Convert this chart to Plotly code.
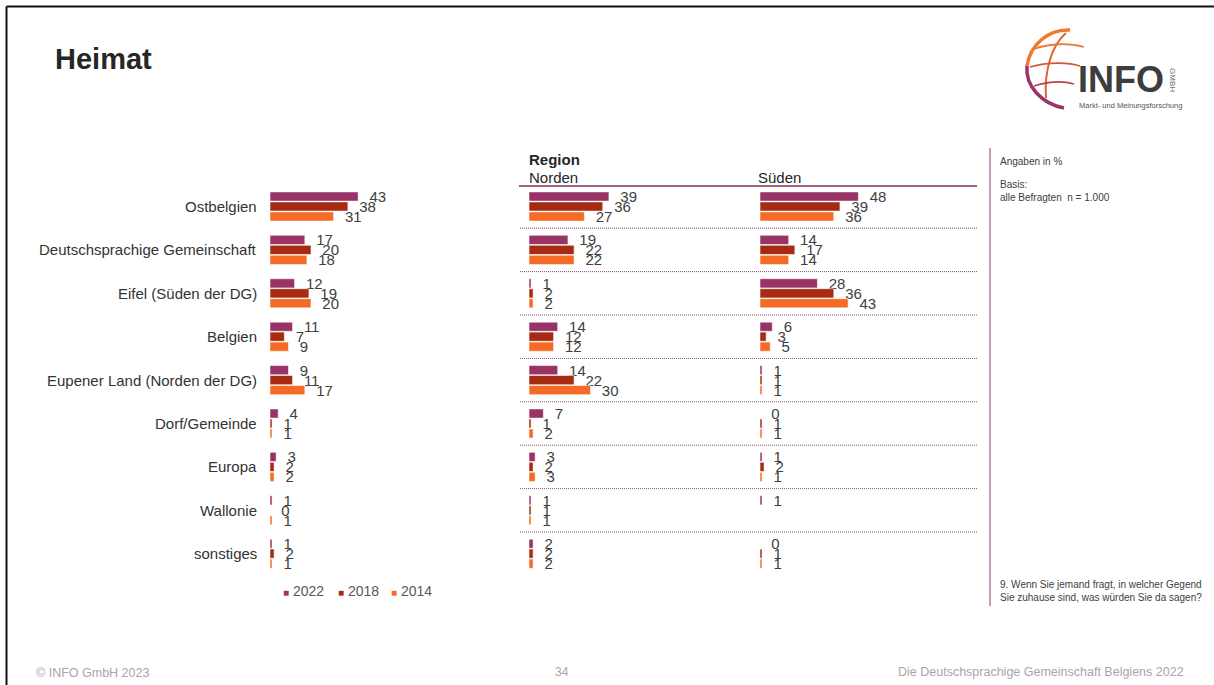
import plotly.graph_objects as go

W, H = 1214, 685

categories = ["Ostbelgien", "Deutschsprachige Gemeinschaft", "Eifel (Süden der DG)", "Belgien",
              "Eupener Land (Norden der DG)", "Dorf/Gemeinde", "Europa", "Wallonie", "sonstiges"]
years = ["2022", "2018", "2014"]

gesamt_2022 = [43, 17, 12, 11, 9, 4, 3, 1, 1]
gesamt_2018 = [38, 20, 19, 7, 11, 1, 2, 0, 2]
gesamt_2014 = [31, 18, 20, 9, 17, 1, 2, 1, 1]

norden_2022 = [39, 19, 1, 14, 14, 7, 3, 1, 2]
norden_2018 = [36, 22, 2, 12, 22, 1, 2, 1, 2]
norden_2014 = [27, 22, 2, 12, 30, 2, 3, 1, 2]

sueden_2022 = [48, 14, 28, 6, 1, 0, 1, 1, 0]
sueden_2018 = [39, 17, 36, 3, 1, 1, 2, None, 1]
sueden_2014 = [36, 14, 43, 5, 1, 1, 1, None, 1]

colors = {"2022": "#993366", "2018": "#A62B12", "2014": "#F36B24"}


def px(x):
    return x / W


def py(y):
    return 1 - y / H


fig = go.Figure()

panels = [
    ("x", [gesamt_2022, gesamt_2018, gesamt_2014]),
    ("x2", [norden_2022, norden_2018, norden_2014]),
    ("x3", [sueden_2022, sueden_2018, sueden_2014]),
]
for xa, series in panels:
    for yr, vals in zip(years, series):
        fig.add_trace(go.Bar(
            x=vals, y=categories, orientation="h", name=yr,
            xaxis=xa, yaxis="y",
            marker=dict(color=colors[yr], line=dict(color="rgba(255,255,255,0.55)", width=1)),
            texttemplate="\u00a0\u00a0%{x}", textposition="outside", textangle=0,
            constraintext="none", cliponaxis=False,
            textfont=dict(family="Liberation Sans, Arial", size=15, color="#404040"),
            showlegend=False, hoverinfo="skip",
        ))

scale_units = 50
unit_px = 2.05
row0, step = 206.5, 43.4
y_top = row0 - 0.5 * step
y_bot = row0 + 8.5 * step

xaxis_common = dict(range=[0, scale_units], showgrid=False, zeroline=False, showticklabels=False,
                    showline=False, fixedrange=True, anchor="y")

fig.update_layout(
    width=W, height=H, margin=dict(l=0, r=0, t=0, b=0),
    paper_bgcolor="white", plot_bgcolor="rgba(0,0,0,0)",
    barmode="group", bargap=0.31, bargroupgap=0.08,
    font=dict(family="Liberation Sans, Arial", color="#404040"),
    xaxis=dict(domain=[px(270), px(270 + scale_units * unit_px)], **xaxis_common),
    xaxis2=dict(domain=[px(529), px(529 + scale_units * unit_px)], **xaxis_common),
    xaxis3=dict(domain=[px(760), px(760 + scale_units * unit_px)], **xaxis_common),
    yaxis=dict(domain=[py(y_bot), py(y_top)], range=[8.5, -0.5], type="category",
               showgrid=False, zeroline=False, showticklabels=False, fixedrange=True, anchor="x"),
    showlegend=False,
)

shapes = []
# frame
shapes.append(dict(type="line", xref="paper", yref="paper", x0=px(6.5), x1=1, y0=py(6.5), y1=py(6.5),
                   line=dict(color="#111111", width=2)))
shapes.append(dict(type="line", xref="paper", yref="paper", x0=px(6.5), x1=px(6.5), y0=py(6.5), y1=0,
                   line=dict(color="#111111", width=2)))
# header rule
shapes.append(dict(type="line", xref="paper", yref="paper", x0=px(519), x1=px(977), y0=py(186), y1=py(186),
                   line=dict(color="#7B2E5F", width=1.5)))
# dotted separators between categories
for k in range(len(categories) - 1):
    shapes.append(dict(type="line", xref="paper", yref="y", x0=px(520), x1=px(977), y0=k + 0.5, y1=k + 0.5,
                       line=dict(color="#8A4A78", width=1, dash="1px,1px")))
# vertical note line
shapes.append(dict(type="line", xref="paper", yref="paper", x0=px(990), x1=px(990), y0=py(148), y1=py(606),
                   line=dict(color="#B57AA3", width=1.5)))


def P(x, y):
    return f"{px(x):.5f},{py(y):.5f}"


logo_paths = [
    (f"M {P(1070,30)} C {P(1048,29)} {P(1030,45)} {P(1027,66)}", "#EE7A2E", 3.5),
    (f"M {P(1027,66)} C {P(1025,86)} {P(1042,104)} {P(1064,108)}", "#9A3468", 3.5),
    (f"M {P(1066,33)} C {P(1052,45)} {P(1044,70)} {P(1046,98)}", "#E0632C", 2),
    (f"M {P(1034,49)} C {P(1050,43)} {P(1070,43)} {P(1084,47)}", "#EB7A3A", 1.8),
    (f"M {P(1030,67)} C {P(1048,62)} {P(1068,62)} {P(1080,66)}", "#D4573A", 1.8),
    (f"M {P(1034,86)} C {P(1050,81)} {P(1064,81)} {P(1074,84)}", "#B8414B", 1.8),
]
for d, c, w in logo_paths:
    shapes.append(dict(type="path", xref="paper", yref="paper", path=d, line=dict(color=c, width=w)))

fig.update_layout(shapes=shapes)

ann = []
for cat in categories:
    ann.append(dict(xref="paper", yref="y", x=px(259), y=cat, text=cat, showarrow=False,
                    xanchor="right", yanchor="middle",
                    font=dict(size=15, color="#333333", family="Liberation Sans, Arial")))


def text(x, y, t, size, color="#404040", anchor="left", bold=False, angle=0, family="Liberation Sans, Arial"):
    return dict(xref="paper", yref="paper", x=px(x), y=py(y), text=(f"<b>{t}</b>" if bold else t),
                showarrow=False, xanchor=anchor, yanchor="middle", textangle=angle,
                font=dict(size=size, color=color, family=family))


ann.append(text(53, 59, "Heimat", 29, "#262626", bold=True))
ann.append(text(527, 160, "Region", 15, "#262626", bold=True))
ann.append(text(527, 177, "Norden", 15, "#262626"))
ann.append(text(756, 177, "Süden", 15, "#262626"))
ann.append(text(998, 161, "Angaben in %", 10, "#404040"))
ann.append(text(998, 184, "Basis:", 10, "#404040"))
ann.append(text(998, 197, "alle Befragten&nbsp;&nbsp;n = 1.000", 10, "#404040"))
ann.append(text(998, 584, "9. Wenn Sie jemand fragt, in welcher Gegend", 10, "#404040"))
ann.append(text(998, 597, "Sie zuhause sind, was würden Sie da sagen?", 10, "#404040"))
ann.append(text(34, 673, "© INFO GmbH 2023", 12.5, "#A6A6A6"))
ann.append(text(562, 672, "34", 12, "#A6A6A6", anchor="center"))
ann.append(text(1186, 672, "Die Deutschsprachige Gemeinschaft Belgiens 2022", 12.5, "#A6A6A6", anchor="right"))
# logo text
ann.append(text(1076, 80, "INFO", 36, "#3D3D3D", bold=True))
ann.append(text(1172, 80, "GMBH", 8, "#707070", anchor="center", angle=90))
ann.append(text(1077, 106, "Markt- und Meinungsforschung", 7.5, "#555555"))
# legend
legend_x = [281, 336, 389]
for lx, yr in zip(legend_x, years):
    ann.append(text(lx, 591, f'<span style="color:{colors[yr]};font-size:10px">■</span> {yr}', 14, "#595959"))

fig.update_layout(annotations=ann)

fig.write_html("out.html", config={"displayModeBar": False},
               post_script="document.body.style.margin='0';document.body.style.overflow='hidden';")
